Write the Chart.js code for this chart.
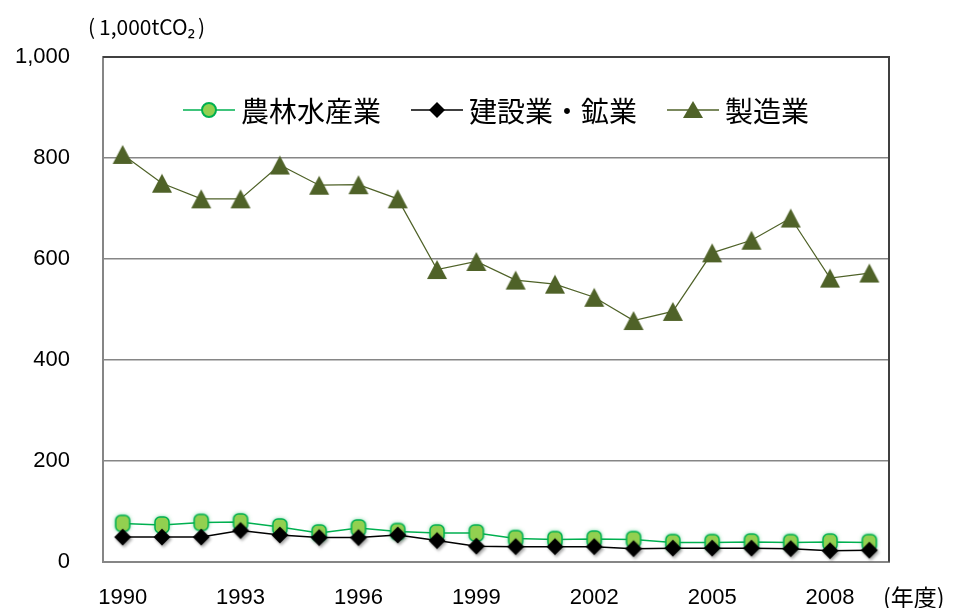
<!DOCTYPE html>
<html>
<head>
<meta charset="utf-8">
<script src="https://cdn.jsdelivr.net/npm/chart.js@4"></script>
<style>
  body { margin: 0; background: #fff; }
  #box { width: 957px; height: 608px; }
</style>
</head>
<body>
<div id="box"><canvas id="grafico" width="957" height="608"></canvas></div>
<script>
// dados (1,000tCO2)
const anos = ['1990','1991','1992','1993','1994','1995','1996','1997','1998','1999',
              '2000','2001','2002','2003','2004','2005','2006','2007','2008','2009']
const nourin = [76, 73, 78, 79, 69, 57, 67, 60, 57, 57, 46, 44, 45, 44, 38, 38, 39, 38, 39, 38]
const kensetsu = [49, 49, 49, 62, 53, 48, 48, 53, 42, 31, 30, 30, 30, 26, 27, 27, 27, 26, 22, 23]
const seizou = [807, 750, 719, 719, 786, 746, 747, 719, 579, 595, 558, 550, 524, 478, 496, 612, 637, 681, 562, 572]
const nomes = ['農林水産業', '建設業・鉱業', '製造業']
const yTicks = [0, 200, 400, 600, 800, 1000]

const fonteNum = '"Liberation Sans", "Noto Sans", sans-serif'
const fonteJp = '"Noto Sans CJK JP", "Noto Sans", sans-serif'

// marcadores desenhados em canvas pequenos
function marcadorVerde() {
    const c = document.createElement('canvas')
    c.width = 24; c.height = 26
    const ctx = c.getContext('2d')
    ctx.shadowColor = 'rgba(0,176,80,0.7)'
    ctx.shadowBlur = 4
    ctx.fillStyle = '#92D050'
    ctx.strokeStyle = '#00B050'
    ctx.lineWidth = 1.5
    ctx.beginPath()
    ctx.roundRect(5, 5, 14, 16, 5)
    ctx.fill()
    ctx.shadowBlur = 0
    ctx.stroke()
    return c
}

function marcadorPreto() {
    const c = document.createElement('canvas')
    c.width = 26; c.height = 26
    const ctx = c.getContext('2d')
    ctx.shadowColor = 'rgba(0,0,0,0.35)'
    ctx.shadowBlur = 3
    ctx.shadowOffsetX = 1.5
    ctx.shadowOffsetY = 2
    ctx.fillStyle = '#000'
    ctx.beginPath()
    ctx.moveTo(13, 4.5)
    ctx.lineTo(21.5, 13)
    ctx.lineTo(13, 21.5)
    ctx.lineTo(4.5, 13)
    ctx.closePath()
    ctx.fill()
    return c
}

function marcadorTriangulo(w, h) {
    const c = document.createElement('canvas')
    c.width = w + 2; c.height = h + 2
    const ctx = c.getContext('2d')
    ctx.fillStyle = '#4F6228'
    ctx.beginPath()
    ctx.moveTo(1 + w / 2, 1)
    ctx.lineTo(1 + w, 1 + h)
    ctx.lineTo(1, 1 + h)
    ctx.closePath()
    ctx.fill()
    return c
}

const imgVerde = marcadorVerde()
const imgPreto = marcadorPreto()
const imgTri = marcadorTriangulo(20, 19)

// moldura superior/direita e textos extras
const pluginMoldura = {
    id: 'moldura',
    beforeDatasetsDraw(chart) {
        const { ctx, chartArea: a } = chart
        ctx.save()
        ctx.strokeStyle = '#404040'
        ctx.lineWidth = 2
        ctx.beginPath()
        ctx.moveTo(a.left, a.top)
        ctx.lineTo(a.right, a.top)
        ctx.lineTo(a.right, a.bottom)
        ctx.stroke()
        ctx.restore()
    },
    afterDraw(chart) {
        const { ctx, chartArea: a } = chart
        ctx.save()
        ctx.fillStyle = '#000'
        ctx.textBaseline = 'middle'
        ctx.textAlign = 'left'
        ctx.font = '21px ' + fonteJp
        ctx.fillText('(', 88, 27)
        ctx.fillText('1,000tCO₂', 99, 27)
        ctx.fillText(')', 102 + ctx.measureText('1,000tCO₂').width, 27)
        ctx.font = '23px ' + fonteJp
        ctx.fillText('(年度)', 883, 597)

        // legenda dentro da área do gráfico
        ctx.font = '28px ' + fonteJp
        const itens = [
            { nome: nomes[0], cor: '#00B050', tipo: 'circulo' },
            { nome: nomes[1], cor: '#000000', tipo: 'losango' },
            { nome: nomes[2], cor: '#4F6228', tipo: 'triangulo' }
        ]
        const linha = 52, gapTxt = 6, gapItem = 30
        let total = 0
        itens.forEach((it, i) => {
            it.w = ctx.measureText(it.nome).width
            total += linha + gapTxt + it.w + (i < itens.length - 1 ? gapItem : 0)
        })
        let x = (a.left + a.right) / 2 - total / 2
        const y = 110
        itens.forEach((it) => {
            ctx.strokeStyle = it.cor
            ctx.lineWidth = 1.5
            ctx.beginPath()
            ctx.moveTo(x, y)
            ctx.lineTo(x + linha, y)
            ctx.stroke()
            const cx = x + linha / 2
            if (it.tipo === 'circulo') {
                ctx.fillStyle = '#92D050'
                ctx.strokeStyle = '#00B050'
                ctx.lineWidth = 2
                ctx.beginPath()
                ctx.arc(cx, y, 7, 0, Math.PI * 2)
                ctx.fill()
                ctx.stroke()
            } else if (it.tipo === 'losango') {
                ctx.fillStyle = '#000'
                ctx.beginPath()
                ctx.moveTo(cx, y - 8)
                ctx.lineTo(cx + 8, y)
                ctx.lineTo(cx, y + 8)
                ctx.lineTo(cx - 8, y)
                ctx.closePath()
                ctx.fill()
            } else {
                ctx.fillStyle = '#4F6228'
                ctx.beginPath()
                ctx.moveTo(cx, y - 9)
                ctx.lineTo(cx + 10, y + 8)
                ctx.lineTo(cx - 10, y + 8)
                ctx.closePath()
                ctx.fill()
            }
            ctx.fillStyle = '#000'
            ctx.fillText(it.nome, x + linha + gapTxt, y + 1)
            x += linha + gapTxt + it.w + gapItem
        })
        ctx.restore()
    }
}

const config = {
    type: 'line',
    data: {
        labels: anos,
        datasets: [
            {
                label: nomes[0],
                data: nourin,
                borderColor: '#00B050',
                borderWidth: 1.5,
                pointStyle: imgVerde,
                order: 2
            },
            {
                label: nomes[1],
                data: kensetsu,
                borderColor: '#000000',
                borderWidth: 1.5,
                pointStyle: imgPreto,
                order: 1
            },
            {
                label: nomes[2],
                data: seizou,
                borderColor: '#4F6228',
                borderWidth: 1.2,
                pointStyle: imgTri,
                order: 0
            }
        ]
    },
    options: {
        responsive: false,
        animation: false,
        tension: 0,
        layout: { padding: { top: 57, right: 68, left: 0, bottom: 0 } },
        plugins: {
            legend: { display: false },
            tooltip: { enabled: false }
        },
        scales: {
            x: {
                offset: true,
                grid: { display: false, drawTicks: false },
                border: { color: '#868686', width: 2 },
                ticks: {
                    autoSkip: false,
                    maxRotation: 0,
                    padding: 23,
                    color: '#000',
                    font: { family: fonteNum, size: 22 },
                    callback: (v, i) => (i % 3 === 0 ? anos[i] : '')
                },
                afterFit: (s) => { s.height = 45 }
            },
            y: {
                min: 0,
                max: 1000,
                afterBuildTicks: (s) => { s.ticks = yTicks.map(v => ({ value: v })) },
                grid: { color: '#868686', lineWidth: 1.5, drawTicks: false },
                border: { color: '#868686', width: 2 },
                ticks: {
                    padding: 33,
                    color: '#000',
                    font: { family: fonteNum, size: 22 },
                    callback: (v) => v.toLocaleString('en-US')
                },
                afterFit: (s) => { s.width = 103 }
            }
        }
    },
    plugins: [pluginMoldura]
}

let meuGrafico = new Chart(document.getElementById('grafico'), config)
</script>
</body>
</html>
